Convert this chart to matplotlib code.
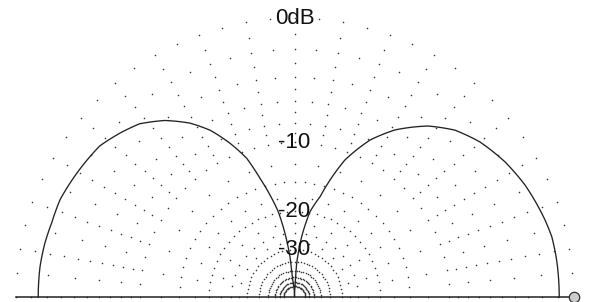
import numpy as np
import matplotlib.pyplot as plt

plt.rcParams['font.family'] = ['Liberation Sans', 'DejaVu Sans']

# radial scale: radius ~ 10**(dB/39)
K = 39.0

# rings of the dotted grid (dB) with the angular step of their dots (deg)
ring_db = [0, -1, -2, -3, -4, -5, -6, -7, -8, -9, -10,
           -12.5, -15, -17.5, -20, -22.5, -25, -27.5,
           -30, -35, -40, -45, -50, -55]
ring_step = [5, 10, 5, 10, 5, 10, 5, 10, 5, 10, 5,
             10, 5, 10, 5, 15, 10, 15,
             5, 5, 5, 5, 5, 5]

label_db = [0, -10, -20, -30]
label_txt = ['0dB', '-10', '-20', '-30']

# pattern: angle (deg) and level (dB)
pat_deg = [0, 2.2, 8.0, 13.2, 17.1, 25.9, 32.7, 39.9, 46.1, 52.0,
           59.0, 64.3, 69.8, 73.1, 75.7, 79.7, 83.2, 86.3, 87.2,
           90,
           96.0, 96.4, 98.5, 100.75, 103.5, 106.2, 109.0, 112.8,
           116.8, 121.0, 126.3, 131.8, 136.7, 142.2, 157.5, 163.0,
           167.8, 173.2, 180]
pat_db = [-0.89, -0.89, -0.89, -0.92, -1.06, -1.44, -1.85, -2.43, -3.16, -4.26,
          -6.08, -7.98, -10.97, -13.97, -16.8, -19.8, -25.8, -35.8, -55.9,
          -200,
          -47.3, -32.7, -24.8, -19.8, -16.6, -13.8, -10.9, -8.7,
          -6.8, -5.4, -4.1, -3.1, -2.6, -2.1, -1.6, -1.6,
          -1.5, -1.44, -1.44]


def fwd(d):
    return 10 ** (np.asarray(d, dtype=float) / K)


def inv(r):
    return K * np.log10(np.clip(np.asarray(r, dtype=float), 1e-12, None))


W, H = 589, 302
fig = plt.figure(figsize=(W / 100, H / 100), dpi=100)
# half disc: centre at (294.5, 297) px from top-left, 0 dB radius 279 px.
# the polar wedge box is square, the centre sits at a quarter of its height
R = 279.0
cx, cy = 294.5, H - 297.0
ax = fig.add_axes([(cx - R) / W, (cy - 0.5 * R) / H, 2 * R / W, 2 * R / H],
                  projection='polar')
ax.set_thetamin(0)
ax.set_thetamax(180)
ax.set_rscale('function', functions=(fwd, inv))
ax.set_rlim(-200, 0)
ax.axis('off')

# dotted grid
for lev, step in zip(ring_db, ring_step):
    th = np.deg2rad(np.arange(0, 180 + step, step))
    ax.plot(th, np.full(th.size, lev), linestyle='none', marker='o',
            ms=1.15, mew=0, color='#3a3a3a', clip_on=False, zorder=1)

# base line
ax.plot([np.pi, 0], [0, 0], color='#222222', lw=1.1, clip_on=False, zorder=3)

# pattern
line, = ax.plot(np.deg2rad(pat_deg), pat_db, color='#222222', lw=0.95,
                clip_on=False, zorder=4)
line.get_path()._interpolation_steps = 16

# level labels
for lev, txt in zip(label_db, label_txt):
    ax.text(np.pi / 2, lev, txt, ha='center', va='center', fontsize=16,
            color='#111111', zorder=5)

# handle at the end of the base line
ax.plot([0], [0], marker='o', ms=7.5, mfc='#cccccc', mec='#333333', mew=0.9,
        clip_on=False, zorder=6)

ax.set_rlim(-200, 0)
fig.savefig('out.png', dpi=100)
